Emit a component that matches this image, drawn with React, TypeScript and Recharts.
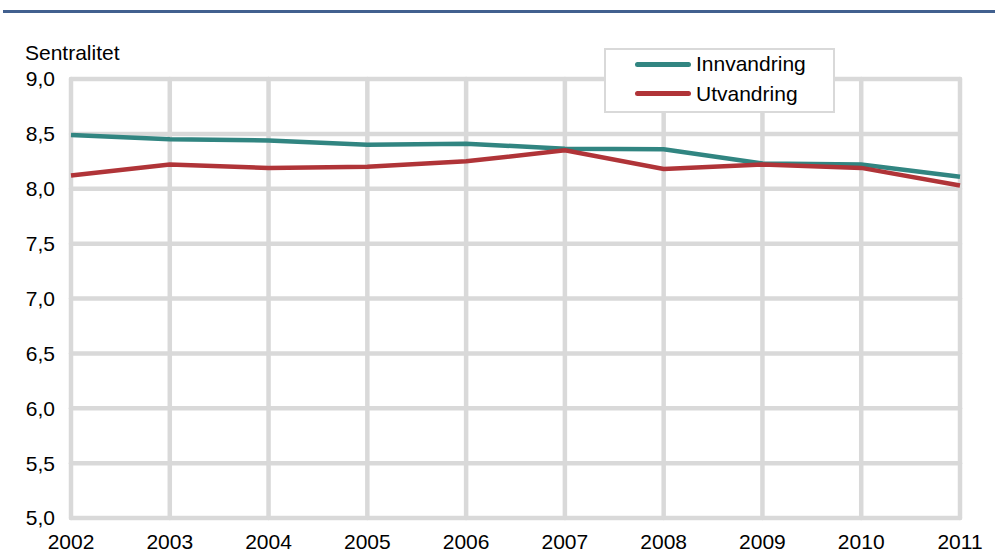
import React from "react";
import { LineChart, Line, XAxis, YAxis, CartesianGrid } from "recharts";

// Years on the horizontal axis
const years = ["2002", "2003", "2004", "2005", "2006", "2007", "2008", "2009", "2010", "2011"];

// Average centrality index for in- and out-migration
const innvandring = [8.49, 8.45, 8.44, 8.4, 8.41, 8.365, 8.36, 8.23, 8.22, 8.11];
const utvandring = [8.12, 8.22, 8.19, 8.2, 8.25, 8.35, 8.18, 8.22, 8.19, 8.03];

// Value axis ticks
const yTicks = [5, 5.5, 6, 6.5, 7, 7.5, 8, 8.5, 9];

const seriesNames = ["Innvandring", "Utvandring"];
const TEAL = "#318581";
const RED = "#b03438";
const GRID = "#d9d9d9";
const FONT = "'Liberation Sans', Arial, sans-serif";
const FS = 21;

const data = years.map((year, i) => ({
  year,
  Innvandring: innvandring[i],
  Utvandring: utvandring[i],
}));

const formatComma = (v: number) => v.toFixed(1).replace(".", ",");

function LegendBox() {
  const colors = [TEAL, RED];
  return (
    <div
      style={{
        position: "absolute",
        left: 604,
        top: 48,
        width: 227,
        height: 61,
        border: `2px solid ${GRID}`,
        background: "#fff",
        boxSizing: "content-box",
        fontFamily: FONT,
        fontSize: FS,
        color: "#000",
      }}
    >
      {seriesNames.map((name, i) => (
        <div
          key={name}
          style={{
            position: "absolute",
            left: 29,
            top: 3 + i * 29.5,
            height: 22,
            lineHeight: "22px",
            display: "flex",
            alignItems: "center",
            whiteSpace: "nowrap",
          }}
        >
          <span
            style={{
              display: "inline-block",
              width: 56,
              height: 5,
              borderRadius: 3,
              background: colors[i],
              marginRight: 5,
            }}
          />
          <span>{name}</span>
        </div>
      ))}
    </div>
  );
}

export default function App() {
  return (
    <div
      style={{
        position: "absolute",
        left: 0,
        top: 0,
        width: 995,
        height: 559,
        background: "#fff",
        overflow: "hidden",
        fontFamily: FONT,
      }}
    >
      <div
        style={{
          position: "absolute",
          left: 3,
          top: 10,
          width: 992,
          height: 3,
          background: "#41608f",
        }}
      />
      <div
        style={{
          position: "absolute",
          left: 25,
          top: 42,
          fontSize: FS,
          lineHeight: "21px",
          color: "#000",
          whiteSpace: "nowrap",
        }}
      >
        Sentralitet
      </div>
      <LineChart
        width={995}
        height={559}
        data={data}
        margin={{ top: 79, right: 35, bottom: 0, left: 11 }}
      >
        <CartesianGrid stroke={GRID} strokeWidth={4.5} strokeLinecap="round" />
        <XAxis
          dataKey="year"
          axisLine={false}
          tickLine={false}
          tickSize={0}
          tickMargin={16}
          height={41}
          interval={0}
          padding={{ left: 0, right: 0 }}
          tick={{ fill: "#000", fontSize: FS, fontFamily: FONT }}
        />
        <YAxis
          domain={[5, 9]}
          ticks={yTicks}
          tickFormatter={formatComma}
          axisLine={false}
          tickLine={false}
          tickSize={0}
          tickMargin={16}
          width={60}
          interval={0}
          tick={{ fill: "#000", fontSize: FS, fontFamily: FONT }}
        />
        <Line
          dataKey="Innvandring"
          stroke={TEAL}
          strokeWidth={4.5}
          dot={false}
          activeDot={false}
          isAnimationActive={false}
        />
        <Line
          dataKey="Utvandring"
          stroke={RED}
          strokeWidth={4.5}
          dot={false}
          activeDot={false}
          isAnimationActive={false}
        />
      </LineChart>
      <LegendBox />
    </div>
  );
}
